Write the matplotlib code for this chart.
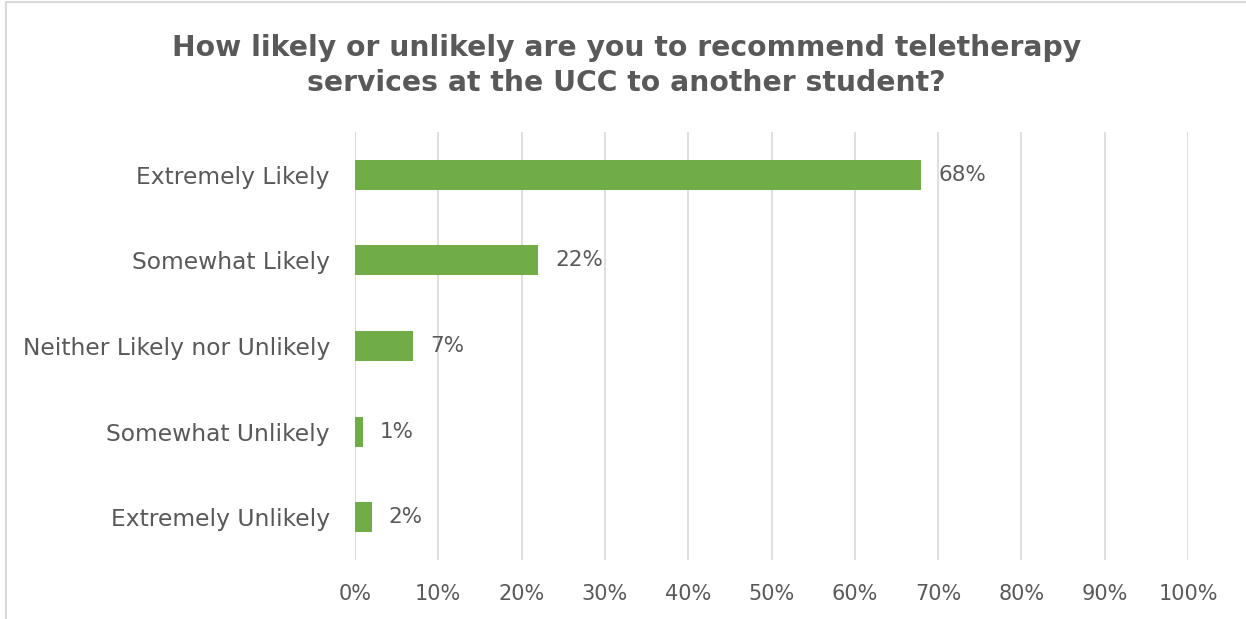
import matplotlib.pyplot as plt
from matplotlib.patches import Rectangle

# survey answers, top to bottom
categories = ['Extremely Likely', 'Somewhat Likely', 'Neither Likely nor Unlikely',
              'Somewhat Unlikely', 'Extremely Unlikely']
shares = [68, 22, 7, 1, 2]
ticks = [0, 10, 20, 30, 40, 50, 60, 70, 80, 90, 100]

text_col = '#595959'
plt.rcParams['font.family'] = ['DejaVu Sans']

fig = plt.figure(figsize=(12.46, 6.19), dpi=100)
ax = fig.add_axes([0.2849, 0.0953, 0.6686, 0.6915])

ypos = list(range(len(categories)))[::-1]
ax.barh(ypos, shares, height=0.35, color='#70AD47', zorder=3)
for y, v in zip(ypos, shares):
    ax.text(v + 2, y, f'{v}%', va='center', ha='left', fontsize=15.5, color=text_col)

ax.set_xlim(0, 100)
ax.set_ylim(-0.5, len(categories) - 0.5)
ax.set_xticks(ticks)
ax.set_xticklabels([f'{t}%' for t in ticks], fontsize=15, color=text_col)
ax.set_yticks(ypos)
ax.set_yticklabels(categories, fontsize=16.8, color=text_col)
ax.tick_params(length=0, axis='x', pad=17)
ax.tick_params(length=0, axis='y', pad=18)
ax.grid(axis='x', color='#D9D9D9', linewidth=1.2, zorder=0)
for s in ax.spines.values():
    s.set_visible(False)
ax.axvline(0, color='#D9D9D9', linewidth=1.2, zorder=1)

fig.text(0.503, 0.894, 'How likely or unlikely are you to recommend teletherapy\nservices at the UCC to another student?',
         ha='center', va='center', fontsize=20.3, fontweight='bold', color=text_col, linespacing=1.3)

# chart frame
fig.patches.append(Rectangle((6 / 1246, -0.1), 1.2, 1.1 - 2 / 619, transform=fig.transFigure,
                             fill=False, edgecolor='#D9D9D9', linewidth=1.5))

fig.savefig('out.png', dpi=100)
